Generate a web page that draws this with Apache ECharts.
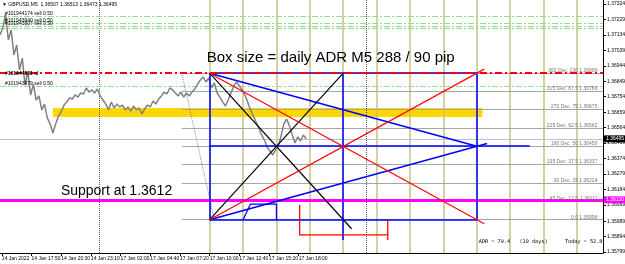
<!DOCTYPE html>
<html><head><meta charset="utf-8">
<script src="https://cdn.jsdelivr.net/npm/echarts@6/dist/echarts.min.js"></script>
<style>html,body{margin:0;padding:0;background:#fff}#c{width:625px;height:264px}</style>
</head><body><div id="c"></div>
<script>
// ---- data ----
const xTickBars = [2,34,66,98,130,162,194,226,258,290,322];
const xTickLabels = ['14 Jan 2022','14 Jan 17:50','14 Jan 20:30','14 Jan 23:10','17 Jan 02:00','17 Jan 04:40','17 Jan 07:20','17 Jan 10:00','17 Jan 12:40','17 Jan 15:20','17 Jan 18:00'];
const yTickValues = [1.35799,1.35894,1.35989,1.36089,1.36184,1.36279,1.36374,1.36469,1.36564,1.36659,1.36754,1.36849,1.36944,1.37039,1.37134,1.37229,1.37324];
const priceStep = 3; // bars between samples
const priceValues = [1.37134,1.37177,1.37263,1.37103,1.37165,1.37011,1.37072,1.36919,1.36992,1.36826,
1.36906,1.36765,1.36832,1.36734,1.36759,1.36673,1.36709,1.36623,1.36587,1.36531,
1.36587,1.36636,1.36660,1.36703,1.36722,1.36746,1.36740,1.36765,1.36752,1.36777,
1.36771,1.36808,1.36783,1.36796,1.36777,1.36802,1.36759,1.36734,1.36709,1.36673,
1.36722,1.36685,1.36709,1.36691,1.36703,1.36673,1.36691,1.36666,1.36697,1.36673,
1.36685,1.36648,1.36679,1.36703,1.36691,1.36728,1.36709,1.36740,1.36759,1.36783,
1.36771,1.36808,1.36796,1.36777,1.36759,1.36783,1.36752,1.36777,1.36759,1.36783,
1.36802,1.36832,1.36857,1.36875,1.36845,1.36869,1.36808,1.36839,1.36777,1.36752,
1.36722,1.36697,1.36734,1.36777,1.36820,1.36845,1.36820,1.36796,1.36765,1.36722,
1.36673,1.36636,1.36599,1.36562,1.36519,1.36488,1.36445,1.36420,1.36396,1.36427,
1.36451,1.36513,1.36587,1.36617,1.36574,1.36519,1.36470,1.36507,1.36482,1.36519,1.36495];
const fibLevels = [1.36899,1.36788,1.36675,1.36562,1.36450,1.36337,1.36224,1.36111,1.35998];
const fibNames = ['360 Dec. 100','315 Dec. 87.5','270 Dec. 75','225 Dec. 62.5','180 Dec. 50','135 Dec. 37.5','90 Dec. 25','45 Dec. 12.5','0.0'];
const orderLevels = [1.37251,1.37208,1.37190,1.37177,1.36820];
const orderLabels = ['#101944174 sell 0.50','#101943940 sell 0.50','#101943507 sell 0.50','','#101943979 sell 0.50'];
const slLevel = 1.36899;
const slLabel = '#101944081 sl';
const supportLevel = 1.36120;
const bidPrice = 1.36495;
const zonePrices = [1.36630,1.36685];
const zoneBars = [57,520];
const boxBars = [226,370,514];          // start, middle, end (288 bars = one day of M5)
const boxGridBars = [226,262,298,334,370,406,442,478,514,550,586,622];
const separatorBars = [107,395];
const fibStartBar = 196;
const fibAnchorBars = [196,231];
const midLineEndBar = 571;
const midVertLow = 1.35873;
const arrowTip = [525,1.36467];
const blackEnd = [379,1.35942];
const redEnds = [[522,1.35973],[522,1.36924]];
const smallBox = [[262,1.35998],[270,1.36094],[298,1.36094],[298,1.35998]];
const redBracket = [[323,1.36088],[323,1.35904],[418,1.35904]];
const redBracketRight = [[418,1.35996],[418,1.35873]];
const header = '\u25BC GBPUSD,M5  1.36507 1.36513 1.36473 1.36495';
const titleText = 'Box size = daily ADR M5 288 / 90 pip';
const supportText = 'Support at 1.3612';
const adrText = 'ADR = 79.4   (10 days)';
const todayText = 'Today = 52.8';

// ---- chart ----
const X0 = 0, X1 = 650, Y0 = 1.35793, Y1 = 1.37349;
const boxTop = fibLevels[0], boxBot = fibLevels[8], boxMid = fibLevels[4];
const [bS,bM,bE] = boxBars;
const chart = echarts.init(document.getElementById('c'), null, {renderer:'canvas'});
const seg = (a,b) => ({coords:[a,b]});
function linesSeries(data, ls, z, poly){
  return {type:'lines', coordinateSystem:'cartesian2d', polyline:!!poly, silent:true, z:z,
    data:data, lineStyle:Object.assign({opacity:1},ls), effect:{show:false}};
}
const series = [
  {type:'line', data:[], silent:true, z:1,
   markArea:{silent:true, itemStyle:{color:'#ffd700'}, data:[[{coord:[zoneBars[0],zonePrices[0]]},{coord:[zoneBars[1],zonePrices[1]]}]]}},
  linesSeries(boxGridBars.map(b=>seg([b,Y0],[b,Y1])), {color:'#cbbf82', width:1.5}, 2),
  linesSeries(separatorBars.map(b=>seg([b,Y0],[b,Y1])), {color:'#555', width:1, type:'dotted'}, 2),
  linesSeries(fibLevels.map(l=>seg([fibStartBar,l],[X1,l])), {color:'#a6a6a6', width:1}, 3),
  linesSeries([seg([fibAnchorBars[0],boxTop],[fibAnchorBars[1],boxBot])], {color:'#888', width:1, type:'dotted'}, 3),
  linesSeries(orderLevels.map(l=>seg([X0,l],[X1,l])), {color:'#8fe08f', width:1, type:[6,2,2,2]}, 3),
  linesSeries([seg([X0,bidPrice],[X1,bidPrice])], {color:'#b4c4d8', width:1}, 3),
  linesSeries([seg([X0,supportLevel],[X1,supportLevel])], {color:'#ff00ff', width:3}, 4),
  {type:'line', silent:true, z:5, symbol:'none', data:priceValues.map((v,i)=>[i*priceStep,v]),
   lineStyle:{color:'#808080', width:1.5}},
  linesSeries([
    seg([bS,boxTop],[bS,boxBot]), seg([bE,boxTop],[bE,boxBot]), seg([bM,boxTop],[bM,midVertLow]),
    seg([bS,boxTop],[bE,boxTop]), seg([bS,boxBot],[bE,boxBot]), seg([bS,boxMid],[midLineEndBar,boxMid]),
    seg([bS,boxTop],[bE,boxMid]), seg([bS,boxBot],arrowTip)
  ], {color:'#0000ff', width:1.5}, 6),
  linesSeries([{coords:smallBox}], {color:'#0000ff', width:1.3}, 6, true),
  linesSeries([seg([bS,boxTop],blackEnd), seg([bS,boxBot],[bM,boxTop])], {color:'#000', width:1.2}, 6),
  linesSeries([seg([bS,boxTop],redEnds[0]), seg([bS,boxBot],redEnds[1])], {color:'#ff0000', width:1.2}, 6),
  linesSeries([{coords:redBracket},{coords:redBracketRight}], {color:'#ff0000', width:1.3}, 6, true),
  linesSeries([seg([X0,slLevel],[X1,slLevel])], {color:'#ff0000', width:2, type:[7,3,2,3]}, 7)
];
chart.setOption({
  animation:false,
  textStyle:{fontFamily:'Liberation Sans'},
  grid:{left:0, right:22, top:0, bottom:11, containLabel:false, outerBoundsMode:'none'},
  xAxis:{type:'value', min:X0, max:X1, splitLine:{show:false},
    axisLine:{show:true, onZero:false, lineStyle:{color:'#000', width:1}},
    axisTick:{show:true, customValues:xTickBars, length:3, lineStyle:{color:'#000'}},
    axisLabel:{customValues:xTickBars, formatter:v=>xTickLabels[xTickBars.indexOf(v)], align:'left', fontSize:5, margin:3, color:'#000'}},
  yAxis:{type:'value', position:'right', min:Y0, max:Y1, splitLine:{show:false},
    axisLine:{show:true, onZero:false, lineStyle:{color:'#000', width:1}},
    axisTick:{show:true, customValues:yTickValues, length:3, lineStyle:{color:'#000'}},
    axisLabel:{customValues:yTickValues, formatter:v=>v.toFixed(5), fontSize:5, margin:4, color:'#000'}},
  series:series
});
const P = (b,p) => chart.convertToPixel({xAxisIndex:0, yAxisIndex:0}, [b,p]);
const g = [];
const txt = (x,y,text,o) => g.push({type:'text', x:x, y:y, z:100, silent:true,
  style:Object.assign({text:text, fontSize:5, fontFamily:'Liberation Sans', fill:'#000', verticalAlign:'middle'}, o||{})});
txt(2,5,header);
orderLevels.forEach((l,i)=>{ if(orderLabels[i]){ const p=P(0,l); txt(5,p[1]-2.5,orderLabels[i]); }});
{ const p=P(0,slLevel); txt(5,p[1],slLabel,{fontWeight:'bold'}); }
fibLevels.forEach((l,i)=>{
  const a=P(623,l), b=P(644,l);
  txt(a[0],a[1]-2.5,fibNames[i],{align:'right', fill:'#777'});
  txt(b[0],b[1]-2.5,l.toFixed(5),{align:'right', fill:'#777'});
});
{ const p=P(bS,boxTop); txt(p[0]-3,p[1]-15,titleText,{fontSize:15}); }
{ const p=P(57,supportLevel); txt(p[0]+8,p[1]-9,supportText,{fontSize:14}); }
{ const p=P(bE,Y0); txt(p[0]+2,p[1]-11,adrText,{fontSize:5.2, fontFamily:'DejaVu Sans Mono'}); }
{ const p=P(X1,Y0); txt(p[0]-38,p[1]-11,todayText,{fontSize:5.2, fontFamily:'DejaVu Sans Mono'}); }
[[bidPrice,'#000'],[supportLevel,'#ff00ff']].forEach(([v,c])=>{
  const p=P(X1,v);
  g.push({type:'rect', z:99, silent:true, shape:{x:p[0]+1,y:p[1]-3.5,width:21,height:7}, style:{fill:c}});
  txt(p[0]+3,p[1],v.toFixed(5),{fill:'#fff'});
});
chart.setOption({graphic:g});
</script></body></html>
